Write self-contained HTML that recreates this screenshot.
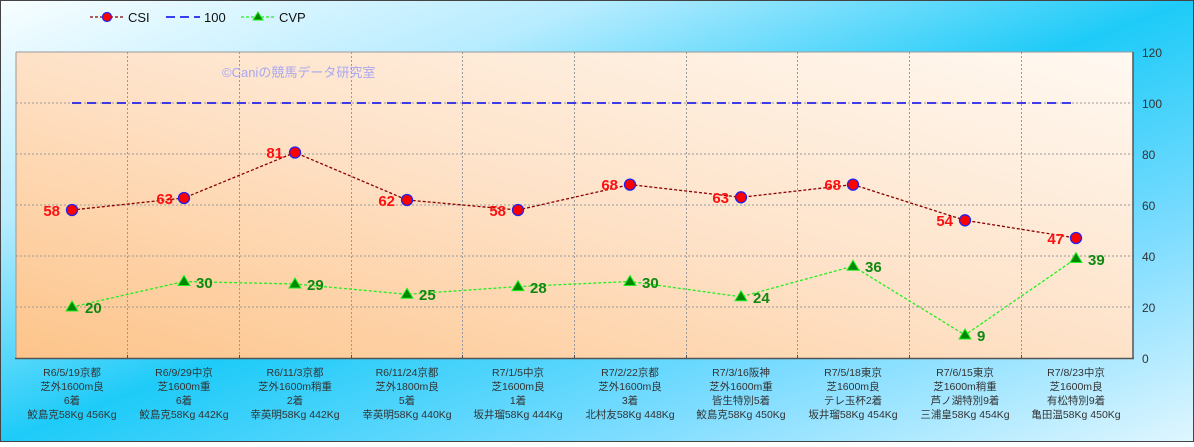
<!DOCTYPE html>
<html><head><meta charset="utf-8"><style>
html,body{margin:0;padding:0;}
body{width:1194px;height:442px;overflow:hidden;}
</style></head><body>
<svg width="1194" height="442" xmlns="http://www.w3.org/2000/svg" font-family="Liberation Sans, 'Noto Sans CJK JP', sans-serif">
<defs>
<linearGradient id="bg" x1="0" y1="0" x2="1" y2="1">
<stop offset="0" stop-color="#f8feff"/>
<stop offset="0.25" stop-color="#b8ecff"/>
<stop offset="0.5" stop-color="#1ecbf8"/>
<stop offset="0.75" stop-color="#7cdcff"/>
<stop offset="1" stop-color="#e0f6ff"/>
</linearGradient>
<linearGradient id="pl" x1="0" y1="1" x2="1" y2="0">
<stop offset="0" stop-color="#fdc48a"/>
<stop offset="0.5" stop-color="#fee2c8"/>
<stop offset="1" stop-color="#fff9f2"/>
</linearGradient>
</defs>
<rect x="0" y="0" width="1194" height="442" fill="url(#bg)"/>
<rect x="0.5" y="0.5" width="1193" height="441" fill="none" stroke="#444" stroke-width="1"/>
<rect x="16" y="52" width="1117" height="306" fill="url(#pl)"/>
<g stroke="#999" stroke-dasharray="2,2" stroke-width="1">
<line x1="16" y1="103" x2="1133" y2="103"/><line x1="16" y1="154" x2="1133" y2="154"/>
<line x1="16" y1="205" x2="1133" y2="205"/><line x1="16" y1="256" x2="1133" y2="256"/>
<line x1="16" y1="307" x2="1133" y2="307"/>
<line x1="127.5" y1="52" x2="127.5" y2="358"/><line x1="239.5" y1="52" x2="239.5" y2="358"/>
<line x1="351.5" y1="52" x2="351.5" y2="358"/><line x1="462.5" y1="52" x2="462.5" y2="358"/>
<line x1="574.5" y1="52" x2="574.5" y2="358"/><line x1="686.5" y1="52" x2="686.5" y2="358"/>
<line x1="797.5" y1="52" x2="797.5" y2="358"/><line x1="909.5" y1="52" x2="909.5" y2="358"/>
<line x1="1021.5" y1="52" x2="1021.5" y2="358"/>
</g>
<line x1="16" y1="52" x2="1133" y2="52" stroke="#999"/>
<line x1="16" y1="52" x2="16" y2="358" stroke="#999"/>
<line x1="1133" y1="52" x2="1133" y2="359" stroke="#555" stroke-width="1.5"/>
<line x1="15" y1="358.5" x2="1134" y2="358.5" stroke="#555" stroke-width="1.5"/>
<g stroke="#555"><line x1="127.5" y1="355" x2="127.5" y2="359"/><line x1="239.5" y1="355" x2="239.5" y2="359"/><line x1="351.5" y1="355" x2="351.5" y2="359"/><line x1="462.5" y1="355" x2="462.5" y2="359"/><line x1="574.5" y1="355" x2="574.5" y2="359"/><line x1="686.5" y1="355" x2="686.5" y2="359"/><line x1="797.5" y1="355" x2="797.5" y2="359"/><line x1="909.5" y1="355" x2="909.5" y2="359"/><line x1="1021.5" y1="355" x2="1021.5" y2="359"/></g>
<g font-size="12" fill="#333">
<text x="1142" y="57">120</text><text x="1142" y="108">100</text><text x="1142" y="159">80</text>
<text x="1142" y="210">60</text><text x="1142" y="261">40</text><text x="1142" y="312">20</text><text x="1142" y="363">0</text>
</g>
<text x="222" y="77" font-size="13" fill="#a8a8f0">©Caniの競馬データ研究室</text>
<line x1="72" y1="103" x2="1076" y2="103" stroke="#0000ee" stroke-width="1.5" stroke-dasharray="9,6"/>
<polyline points="72,210 184,198 295,152.5 407,200 518,210 630,184.6 741,197.3 853,184.6 965,220.3 1076,238" fill="none" stroke="#8b0000" stroke-width="1.3" stroke-dasharray="3,2"/>
<polyline points="72,307 184,281.5 295,284 407,294.3 518,286.6 630,281.5 741,296.8 853,266.2 965,335 1076,258.5" fill="none" stroke="#22ee22" stroke-width="1.3" stroke-dasharray="3,2"/>
<g fill="#ff0000" stroke="#2222ee" stroke-width="1.3">
<circle cx="72" cy="210" r="5.5"/><circle cx="184" cy="198" r="5.5"/><circle cx="295" cy="152.5" r="5.5"/><circle cx="407" cy="200" r="5.5"/><circle cx="518" cy="210" r="5.5"/><circle cx="630" cy="184.6" r="5.5"/><circle cx="741" cy="197.3" r="5.5"/><circle cx="853" cy="184.6" r="5.5"/><circle cx="965" cy="220.3" r="5.5"/><circle cx="1076" cy="238" r="5.5"/>
</g>
<g fill="#008800" stroke="#22ee22" stroke-width="1">
<polygon points="72,301 66,311 78,311"/><polygon points="184,275.5 178,285.5 190,285.5"/><polygon points="295,278 289,288 301,288"/><polygon points="407,288.3 401,298.3 413,298.3"/><polygon points="518,280.6 512,290.6 524,290.6"/><polygon points="630,275.5 624,285.5 636,285.5"/><polygon points="741,290.8 735,300.8 747,300.8"/><polygon points="853,260.2 847,270.2 859,270.2"/><polygon points="965,329 959,339 971,339"/><polygon points="1076,252.5 1070,262.5 1082,262.5"/>
</g>
<g font-size="15" font-weight="bold" fill="#ff1010" text-anchor="end">
<text x="60" y="216">58</text><text x="173" y="204">63</text><text x="283" y="158">81</text><text x="395" y="206">62</text><text x="506" y="216">58</text><text x="618" y="190">68</text><text x="729" y="203">63</text><text x="841" y="190">68</text><text x="953" y="226">54</text><text x="1064" y="244">47</text>
</g>
<g font-size="15" font-weight="bold" fill="#118811">
<text x="85" y="313">20</text><text x="196" y="288">30</text><text x="307" y="290">29</text><text x="419" y="300">25</text><text x="530" y="293">28</text><text x="642" y="288">30</text><text x="753" y="303">24</text><text x="865" y="272">36</text><text x="977" y="341">9</text><text x="1088" y="265">39</text>
</g>
<g font-size="10.5" fill="#333" text-anchor="middle">
<g transform="translate(72,0)"><text y="376">R6/5/19京都</text><text y="390">芝外1600m良</text><text y="404">6着</text><text y="418">鮫島克58Kg 456Kg</text></g>
<g transform="translate(184,0)"><text y="376">R6/9/29中京</text><text y="390">芝1600m重</text><text y="404">6着</text><text y="418">鮫島克58Kg 442Kg</text></g>
<g transform="translate(295,0)"><text y="376">R6/11/3京都</text><text y="390">芝外1600m稍重</text><text y="404">2着</text><text y="418">幸英明58Kg 442Kg</text></g>
<g transform="translate(407,0)"><text y="376">R6/11/24京都</text><text y="390">芝外1800m良</text><text y="404">5着</text><text y="418">幸英明58Kg 440Kg</text></g>
<g transform="translate(518,0)"><text y="376">R7/1/5中京</text><text y="390">芝1600m良</text><text y="404">1着</text><text y="418">坂井瑠58Kg 444Kg</text></g>
<g transform="translate(630,0)"><text y="376">R7/2/22京都</text><text y="390">芝外1600m良</text><text y="404">3着</text><text y="418">北村友58Kg 448Kg</text></g>
<g transform="translate(741,0)"><text y="376">R7/3/16阪神</text><text y="390">芝外1600m重</text><text y="404">皆生特別5着</text><text y="418">鮫島克58Kg 450Kg</text></g>
<g transform="translate(853,0)"><text y="376">R7/5/18東京</text><text y="390">芝1600m良</text><text y="404">テレ玉杯2着</text><text y="418">坂井瑠58Kg 454Kg</text></g>
<g transform="translate(965,0)"><text y="376">R7/6/15東京</text><text y="390">芝1600m稍重</text><text y="404">芦ノ湖特別9着</text><text y="418">三浦皇58Kg 454Kg</text></g>
<g transform="translate(1076,0)"><text y="376">R7/8/23中京</text><text y="390">芝1600m良</text><text y="404">有松特別9着</text><text y="418">亀田温58Kg 450Kg</text></g>
</g>
<line x1="90" y1="17" x2="124" y2="17" stroke="#8b0000" stroke-width="1.3" stroke-dasharray="3,2"/>
<circle cx="107" cy="17" r="4.5" fill="#ff0000" stroke="#2222ee" stroke-width="1.2"/>
<text x="128" y="22" font-size="13" fill="#111">CSI</text>
<line x1="166" y1="17" x2="200" y2="17" stroke="#0000ee" stroke-width="1.5" stroke-dasharray="9,5"/>
<text x="204" y="22" font-size="13" fill="#111">100</text>
<line x1="241" y1="17" x2="275" y2="17" stroke="#22ee22" stroke-width="1.3" stroke-dasharray="3,2"/>
<polygon points="258,12 253,20 263,20" fill="#008800" stroke="#22ee22"/>
<text x="279" y="22" font-size="13" fill="#111">CVP</text>
</svg>
</body></html>
